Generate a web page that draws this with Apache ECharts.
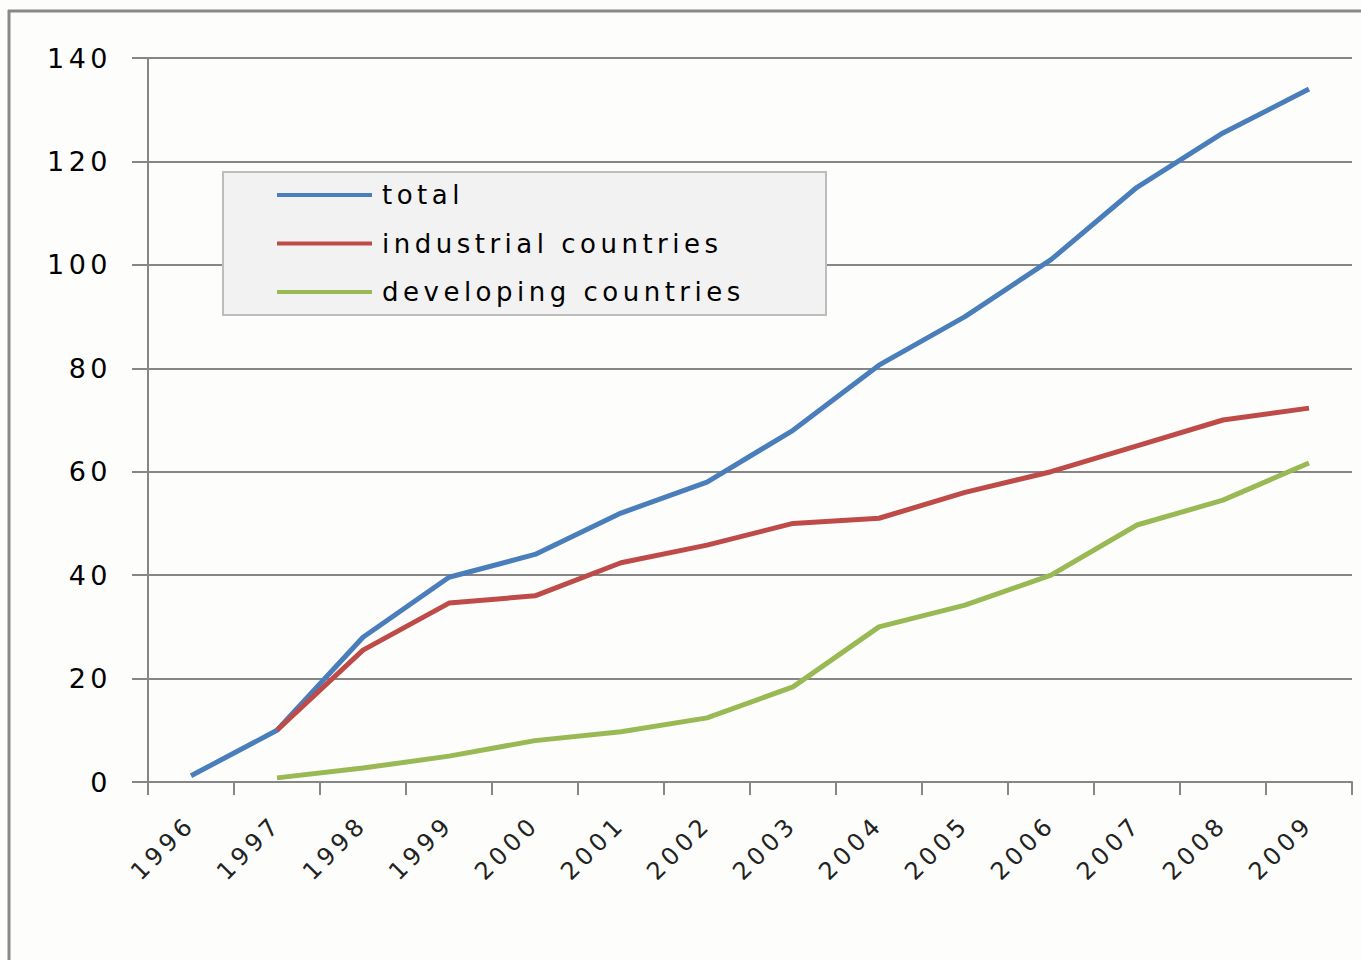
<!DOCTYPE html>
<html>
<head>
<meta charset="utf-8">
<script src="https://cdn.jsdelivr.net/npm/echarts@6/dist/echarts.min.js"></script>
<style>
  html, body { margin: 0; padding: 0; background: #fdfefc; }
  #chart { width: 1361px; height: 960px; }
  /* the original type is set wide; widen the svg text a little */
  #chart svg text { letter-spacing: 4.5px; }
</style>
</head>
<body>
<div id="chart"></div>
<script>
  // data
  const years = ['1996', '1997', '1998', '1999', '2000', '2001', '2002', '2003', '2004', '2005', '2006', '2007', '2008', '2009'];
  const total = [1.2, 10, 28, 39.6, 44, 52, 58, 68, 80.6, 90, 101, 115, 125.5, 134];
  const industrial = [null, 10, 25.5, 34.6, 36, 42.4, 45.8, 50, 51, 56, 60, 65, 70, 72.3];
  const developing = [null, 0.8, 2.7, 5, 8, 9.7, 12.4, 18.4, 30, 34.2, 40, 49.7, 54.5, 61.7];
  const yTicks = { min: 0, max: 140, interval: 20 };

  const gridColor = '#868686';
  const font = 'DejaVu Sans';

  let chart = echarts.init(document.getElementById('chart'), null, { renderer: 'svg' });

  const lineSeries = (name, data, color) => ({
    name: name,
    type: 'line',
    data: data,
    symbol: 'none',
    smooth: false,
    connectNulls: false,
    lineStyle: { color: color, width: 5 },
    itemStyle: { color: color }
  });

  const option = {
    backgroundColor: '#fdfefc',
    animation: false,
    graphic: [
      // outer frame (only top and left edges are in the picture)
      { type: 'line', shape: { x1: 8, y1: 11, x2: 1361, y2: 11 }, style: { stroke: '#888', lineWidth: 3 } },
      { type: 'line', shape: { x1: 9, y1: 10, x2: 9, y2: 960 }, style: { stroke: '#888', lineWidth: 3 } },
      // legend box
      { type: 'rect', z: 5, shape: { x: 223, y: 172, width: 603, height: 143 },
        style: { fill: '#f2f2f2', stroke: '#bdbdbd', lineWidth: 2 } }
    ],
    legend: {
      z: 10,
      orient: 'vertical',
      left: 277,
      top: 180,
      padding: 0,
      itemWidth: 95,
      itemHeight: 4,
      itemGap: 18.5,
      icon: 'rect',
      data: ['total', 'industrial countries', 'developing countries'],
      textStyle: { fontFamily: font, fontSize: 26, color: '#000', lineHeight: 30, padding: [0, 0, 0, 5] }
    },
    grid: { left: 148, right: 9, top: 58, bottom: 178, containLabel: false },
    xAxis: {
      type: 'category',
      data: years,
      boundaryGap: true,
      axisLine: { lineStyle: { color: gridColor, width: 2 } },
      axisTick: { show: true, length: 13, lineStyle: { color: gridColor, width: 2 } },
      axisLabel: { rotate: 45, margin: 38, interval: 0, fontFamily: font, fontSize: 24, color: '#222' }
    },
    yAxis: {
      type: 'value',
      min: yTicks.min,
      max: yTicks.max,
      interval: yTicks.interval,
      axisLine: { show: true, lineStyle: { color: gridColor, width: 2 } },
      axisTick: { show: true, length: 16, lineStyle: { color: gridColor, width: 2 } },
      splitLine: { show: true, lineStyle: { color: gridColor, width: 2 } },
      axisLabel: { margin: 36, fontFamily: font, fontSize: 27, color: '#000' }
    },
    series: [
      lineSeries('total', total, '#4a7ebb'),
      lineSeries('industrial countries', industrial, '#be4b48'),
      lineSeries('developing countries', developing, '#98b954')
    ]
  };

  chart.setOption(option, true);
</script>
</body>
</html>
